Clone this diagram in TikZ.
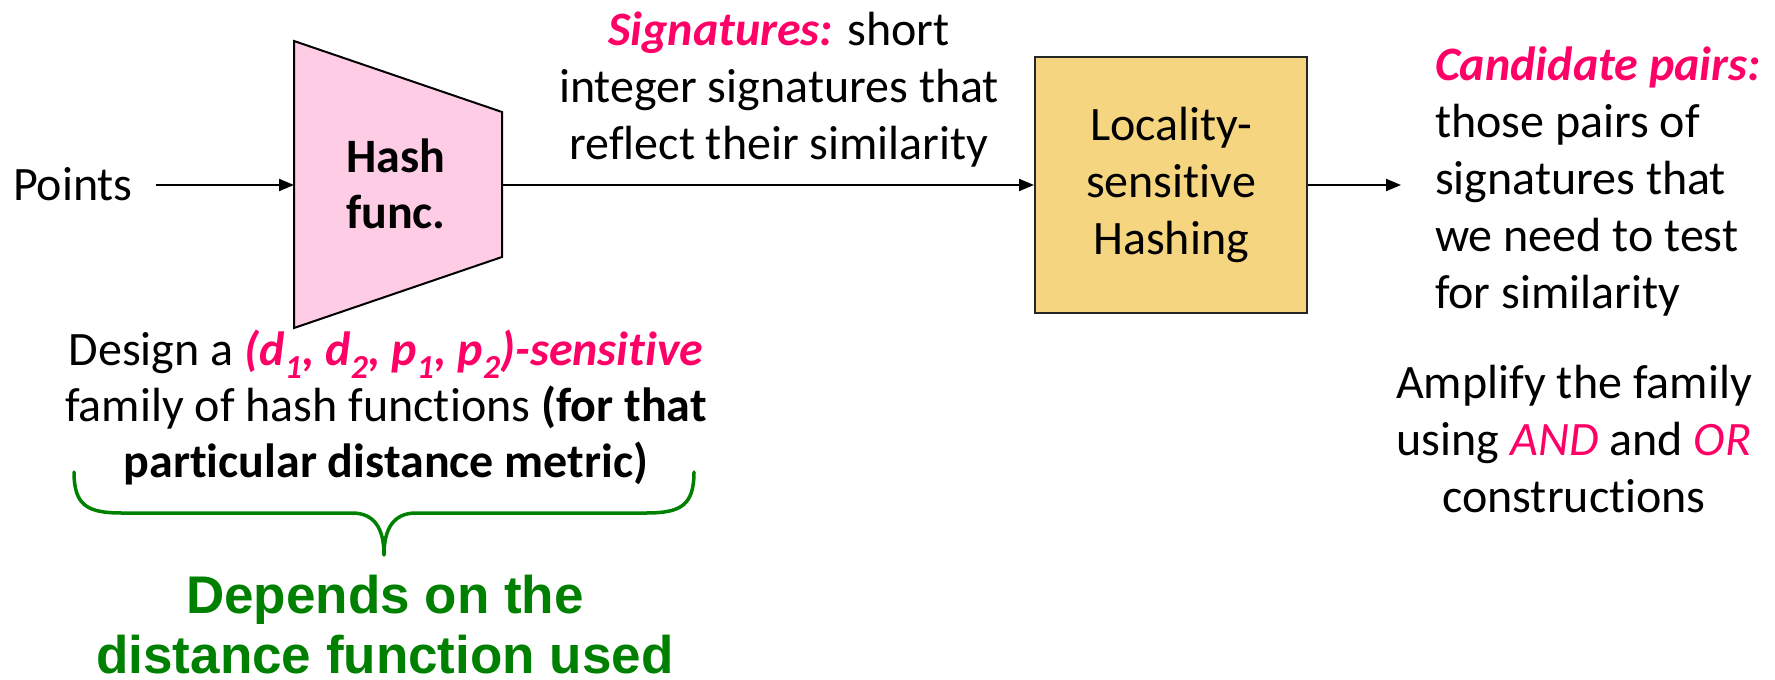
\documentclass[tikz,border=0pt]{standalone}
\usepackage{fontspec}
\setmainfont{Carlito}[Ligatures=NoCommon]
\newfontfamily\depfont{Liberation Sans}
\usetikzlibrary{arrows.meta,calc}

\definecolor{hotpink}{HTML}{FF0066}
\definecolor{hashpink}{HTML}{FFCCE6}
\definecolor{lshgold}{HTML}{F6D580}
\definecolor{bracegreen}{HTML}{008000}

\newcommand\pinkbi[1]{{\color{hotpink}\bfseries\itshape #1}}
\newcommand\pinki[1]{{\color{hotpink}\itshape #1}}

\begin{document}
\begin{tikzpicture}[x=1pt,y=-1pt,
  txt/.style={inner sep=0pt, outer sep=0pt, font=\fontsize{48}{57}\selectfont},
  flow/.style={line width=2pt, -{Triangle[length=15pt,width=12pt]}},
  hashshape/.style={line width=2pt, fill=hashpink, line join=miter},
  lshbox/.style={draw=black!85, line width=2pt, fill=lshgold,
    minimum width=272pt, minimum height=256pt, inner sep=0pt,
    align=center, font=\fontsize{48}{57}\selectfont},
  bracepath/.style={draw=bracegreen, line width=3.5pt, line cap=round, line join=round}]

\useasboundingbox (0,0) rectangle (1775,680);

% input label
\node[txt, anchor=base west] (points) at (13,200) {Points};

% hash function trapezoid
\coordinate (hin) at (294,185);
\coordinate (hout) at (502,185);
\draw[hashshape] (294,41) -- (502,112) -- (502,257) -- (294,328) -- cycle;
% (anchor=base of a multi-line node sits on its last line)
\node[txt, align=center, anchor=base, font=\fontsize{48}{56}\selectfont\bfseries] (hash) at (396,228) {Hash\\func.};

% locality-sensitive hashing block
\node[lshbox] (lsh) at (1171,185) {Locality-\\sensitive\\Hashing};

% connectors
\coordinate (pstart) at ($(points.east |- hin)+(23,0)$);
\coordinate (candtip) at (1401,185);
\draw[flow] (pstart) -- (hin);
\draw[flow] (hout) -- (lsh.west);
\draw[flow] (lsh.east) -- (candtip);

% signatures label
\node[txt, align=center, anchor=base] (sig) at (779,159)
  {\pinkbi{Signatures:} short\\integer signatures that\\reflect their similarity};

% candidate pairs label
\node[txt, align=left, anchor=base west] (cand) at (1435,308)
  {\pinkbi{Candidate pairs:}\\those pairs of\\signatures that\\we need to test\\for similarity};

% design note
\node[txt, align=center, anchor=base, font=\fontsize{48}{56}\selectfont] (design) at (386,477)
  {Design a \pinkbi{(d\textsubscript{1}, d\textsubscript{2}, p\textsubscript{1}, p\textsubscript{2})-sensitive}\\
   family of hash functions \textbf{(for that}\\
   \textbf{particular distance metric)}};

% amplification note
\node[txt, align=center, anchor=base] (amp) at (1574,512)
  {Amplify the family\\using \pinki{AND} and \pinki{OR}\\constructions};

% brace
\coordinate (bl) at (74,472);
\coordinate (br) at (694,472);
\coordinate (btip) at (384,555);
\draw[bracepath] (bl) .. controls (74,506) and (88,513) .. (122,513)
  -- (352,513) .. controls (374,513) and (384,528) .. (btip)
  .. controls (384,528) and (394,513) .. (416,513)
  -- (646,513) .. controls (680,513) and (694,506) .. (br);

% dependence note
\node[inner sep=0pt, align=center, anchor=base, text=bracegreen,
  font=\fontsize{53}{60}\selectfont\depfont\bfseries] (dep) at (385,673)
  {Depends on the\\distance function used};

\end{tikzpicture}
\end{document}
